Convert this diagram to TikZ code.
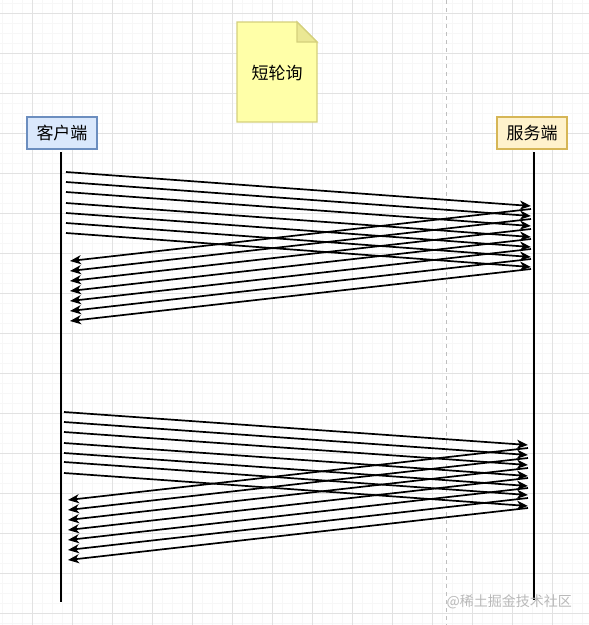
\documentclass[tikz,border=0pt]{standalone}
\usepackage{fontspec}
\newfontfamily\cjk{Noto Sans CJK SC}
\usetikzlibrary{arrows.meta}
\definecolor{clientfill}{HTML}{DAE8FC}
\definecolor{clientdraw}{HTML}{6C8EBF}
\definecolor{serverfill}{HTML}{FFF2CC}
\definecolor{serverdraw}{HTML}{D6B656}
\definecolor{notefill}{HTML}{FFFFA8}
\definecolor{notedraw}{HTML}{D4D07C}
\definecolor{notefold}{HTML}{EBE894}
\definecolor{gridmajor}{HTML}{E2E2E2}
\definecolor{gridminor}{HTML}{F7F7F7}
\tikzset{
  actorbox/.style={draw, line width=1.3pt, minimum width=70pt, minimum height=32pt, inner sep=0pt, font=\cjk\fontsize{17}{17}\selectfont},
  lifeline/.style={line width=1.7pt, black},
  msg/.style={line width=1.7pt, black, -{Stealth[length=11pt,width=9pt,inset=3pt]}},
  gridminorline/.style={gridminor, line width=0.5pt},
  gridmajorline/.style={gridmajor, line width=0.8pt}
}
\begin{document}
\begin{tikzpicture}[x=1pt,y=-1pt]
\useasboundingbox (0,0) rectangle (589,625);
\fill[white] (0,0) rectangle (589,625);
% grid
\foreach \x in {2,12,...,589} {\draw[gridminorline] (\x,0) -- (\x,625);}
\foreach \y in {3,13,...,625} {\draw[gridminorline] (0,\y) -- (589,\y);}
\foreach \x in {32,72,...,589} {\draw[gridmajorline] (\x,0) -- (\x,625);}
\foreach \y in {13,53,...,625} {\draw[gridmajorline] (0,\y) -- (589,\y);}
% dashed separator
\coordinate (sepTop) at (446,0);
\coordinate (sepBot) at (446,625);
\draw[gray!50, line width=0.8pt, dash pattern=on 4pt off 4pt] (sepTop) -- (sepBot);
% note
\filldraw[fill=notefill, draw=notedraw, line width=1.3pt] (237,22) -- (297,22) -- (317,42) -- (317,122) -- (237,122) -- cycle;
\filldraw[fill=notefold, draw=notedraw, line width=1.3pt] (297,22) -- (297,42) -- (317,42) -- cycle;
\node[font=\cjk\fontsize{17}{17}\selectfont] (note) at (277,73) {短轮询};
% actors
\node[actorbox, fill=clientfill, draw=clientdraw] (client) at (62,133) {客户端};
\node[actorbox, fill=serverfill, draw=serverdraw] (server) at (532,133) {服务端};
% lifelines
\coordinate (clientEnd) at (61,602);
\coordinate (serverEnd) at (534,600);
\coordinate (clientStart) at (61,152);
\coordinate (serverStart) at (534,152);
\draw[lifeline] (clientStart) -- (clientEnd);
\draw[lifeline] (serverStart) -- (serverEnd);
% bundle 1
\foreach \i/\s in {0/172,1/182,2/192,3/203,4/213,5/223,6/233} {
  \coordinate (qa\i) at (66,\s);
  \coordinate (qb\i) at (531,{\s+34});
  \draw[msg] (qa\i) -- (qb\i);
}
\foreach \i in {0,...,6} {
  \coordinate (pa\i) at (531,{209+10*\i});
  \coordinate (pb\i) at (70,{261+10*\i});
  \draw[msg] (pa\i) -- (pb\i);
}
% bundle 2
\foreach \i/\s in {0/412,1/422,2/432,3/443,4/453,5/462,6/473} {
  \coordinate (ra\i) at (64,\s);
  \coordinate (rb\i) at (528,{\s+33});
  \draw[msg] (ra\i) -- (rb\i);
}
\foreach \i in {0,...,6} {
  \coordinate (sa\i) at (528,{448+10*\i});
  \coordinate (sb\i) at (68,{500+10*\i});
  \draw[msg] (sa\i) -- (sb\i);
}
% watermark
\node[text=gray!55, font=\cjk\fontsize{14}{14}\selectfont, anchor=east, inner sep=0pt] (wm) at (572,602) {@稀土掘金技术社区};
\end{tikzpicture}
\end{document}
